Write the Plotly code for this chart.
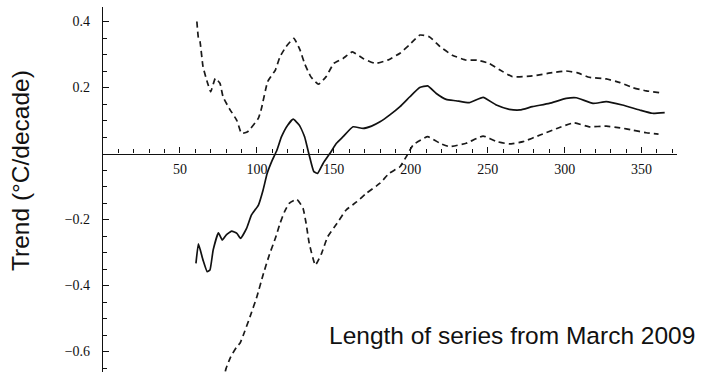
import plotly.graph_objects as go

# Upper confidence bound (dashed)
upper_x = [61, 62, 63, 65, 68, 70, 73, 76, 78, 82, 87, 90, 94, 101, 103, 107, 112, 115, 119, 124,
           128, 131, 135, 140, 145, 150, 156, 162, 169, 177, 185, 193, 199, 206, 212, 219, 227,
           236, 243, 251, 258, 266, 279, 292, 301, 308, 316, 327, 336, 344, 353, 362]
upper_y = [0.40, 0.35, 0.34, 0.263, 0.213, 0.187, 0.228, 0.213, 0.172, 0.137, 0.10, 0.061, 0.066,
           0.107, 0.137, 0.218, 0.253, 0.293, 0.324, 0.349, 0.314, 0.273, 0.233, 0.21, 0.233,
           0.273, 0.288, 0.308, 0.288, 0.273, 0.283, 0.304, 0.329, 0.359, 0.354, 0.324, 0.298,
           0.283, 0.283, 0.273, 0.253, 0.233, 0.235, 0.245, 0.25, 0.245, 0.231, 0.226, 0.215,
           0.20, 0.19, 0.184]

# Trend (solid)
trend_x = [60.4, 62, 65, 67.7, 69.5, 71.6, 75, 77.5, 80, 83.6, 87, 89.4, 93.3, 96.5, 101, 104,
           106.7, 110, 113, 116, 120, 123.6, 127.6, 131, 134, 137, 139.5, 143, 147.4, 151.7, 156,
           162.5, 169, 174.5, 180, 186.4, 193, 199.4, 205.8, 211, 216.6, 223, 229.4, 238, 247,
           255.6, 264, 271, 279, 290, 301, 307.6, 318.4, 327, 337.5, 348.7, 357, 365]
trend_y = [-0.333, -0.274, -0.323, -0.358, -0.353, -0.292, -0.24, -0.262, -0.247, -0.235, -0.242,
           -0.257, -0.227, -0.186, -0.156, -0.111, -0.06, -0.02, 0.01, 0.051, 0.086, 0.104, 0.086,
           0.051, -0.005, -0.055, -0.06, -0.03, 0.0, 0.031, 0.051, 0.081, 0.076, 0.083, 0.096,
           0.117, 0.142, 0.172, 0.20, 0.205, 0.182, 0.164, 0.16, 0.154, 0.17, 0.147, 0.134, 0.132,
           0.142, 0.152, 0.167, 0.169, 0.152, 0.157, 0.147, 0.132, 0.122, 0.124]

# Lower confidence bound (dashed)
lower_x = [78, 80, 83, 87, 89, 92, 95.5, 100, 104, 108, 112, 115, 118, 121, 126, 130, 132, 134,
           138, 142, 146, 152, 158, 165, 171, 180, 186, 193, 197, 201.5, 211, 219, 225, 236, 247,
           256, 264, 273, 284, 295, 306, 316, 327, 336, 344, 353, 361]
lower_y = [-0.69, -0.651, -0.616, -0.585, -0.575, -0.54, -0.495, -0.434, -0.368, -0.308, -0.257,
           -0.212, -0.176, -0.151, -0.139, -0.166, -0.212, -0.272, -0.338, -0.303, -0.252, -0.212,
           -0.171, -0.146, -0.121, -0.09, -0.06, -0.04, -0.01, 0.026, 0.051, 0.031, 0.021, 0.031,
           0.053, 0.036, 0.029, 0.036, 0.056, 0.076, 0.093, 0.081, 0.083, 0.078, 0.071, 0.063,
           0.059]

x_ticks = [50, 100, 150, 200, 250, 300, 350]
x_minor = [v for v in range(10, 371, 10) if v % 50 != 0]
y_ticks = [-0.6, -0.4, -0.2, 0.2, 0.4]
y_tick_labels = ["\u22120.6", "\u22120.4", "\u22120.2", "0.2", "0.4"]
y_minor = [round(-0.65 + 0.05 * i, 2) for i in range(0, 22)]
y_minor = [v for v in y_minor if abs(round(v / 0.2) * 0.2 - v) > 1e-6]

x_range = [0, 373]
y_range = [-0.662, 0.444]

fig = go.Figure()
dash_style = dict(color="#1a1a1a", width=1.7, dash="6px,4px", shape="spline", smoothing=0.4)
fig.add_trace(go.Scatter(x=upper_x, y=upper_y, mode="lines", line=dash_style, showlegend=False))
fig.add_trace(go.Scatter(x=lower_x, y=lower_y, mode="lines", line=dash_style, showlegend=False))
fig.add_trace(go.Scatter(x=trend_x, y=trend_y, mode="lines",
                         line=dict(color="#111111", width=1.7, shape="spline", smoothing=0.4),
                         showlegend=False))

tick_font = dict(family="Liberation Serif, Times New Roman, serif", size=14, color="#111")

fig.update_layout(
    width=705, height=372,
    margin=dict(l=103, r=28, t=7, b=0),
    paper_bgcolor="white", plot_bgcolor="white",
    xaxis=dict(
        range=x_range, anchor="free",
        position=(0 - y_range[0]) / (y_range[1] - y_range[0]),
        showline=True, linecolor="#111", linewidth=1.3,
        tickmode="array", tickvals=x_ticks, ticktext=[str(v) for v in x_ticks],
        ticks="inside", ticklen=6, tickwidth=1.2, tickcolor="#111",
        minor=dict(tickmode="array", tickvals=x_minor, ticks="inside", ticklen=4,
                   tickwidth=1, tickcolor="#111", showgrid=False),
        showgrid=False, zeroline=False, tickfont=tick_font, ticklabelstandoff=3,
    ),
    yaxis=dict(
        range=y_range, anchor="x",
        showline=True, linecolor="#111", linewidth=1.3,
        tickmode="array", tickvals=y_ticks, ticktext=y_tick_labels,
        ticks="inside", ticklen=6, tickwidth=1.2, tickcolor="#111",
        minor=dict(tickmode="array", tickvals=y_minor, ticks="inside", ticklen=4,
                   tickwidth=1, tickcolor="#111", showgrid=False),
        showgrid=False, zeroline=False, tickfont=tick_font, ticklabelstandoff=9,
    ),
    annotations=[
        dict(text="Trend (°C/decade)", xref="paper", yref="paper",
             x=(20.5 - 103) / 574, y=(372 - 170.5) / 365, textangle=-90,
             showarrow=False, xanchor="center", yanchor="middle",
             font=dict(family="Arial, Liberation Sans, sans-serif", size=24.5, color="#111")),
        dict(text="Length of series from March 2009", xref="paper", yref="paper",
             x=(697 - 103) / 574, y=(372 - 335) / 365,
             showarrow=False, xanchor="right", yanchor="middle",
             font=dict(family="Arial, Liberation Sans, sans-serif", size=24.5, color="#111")),
    ],
)

fig.write_html("out.html")
